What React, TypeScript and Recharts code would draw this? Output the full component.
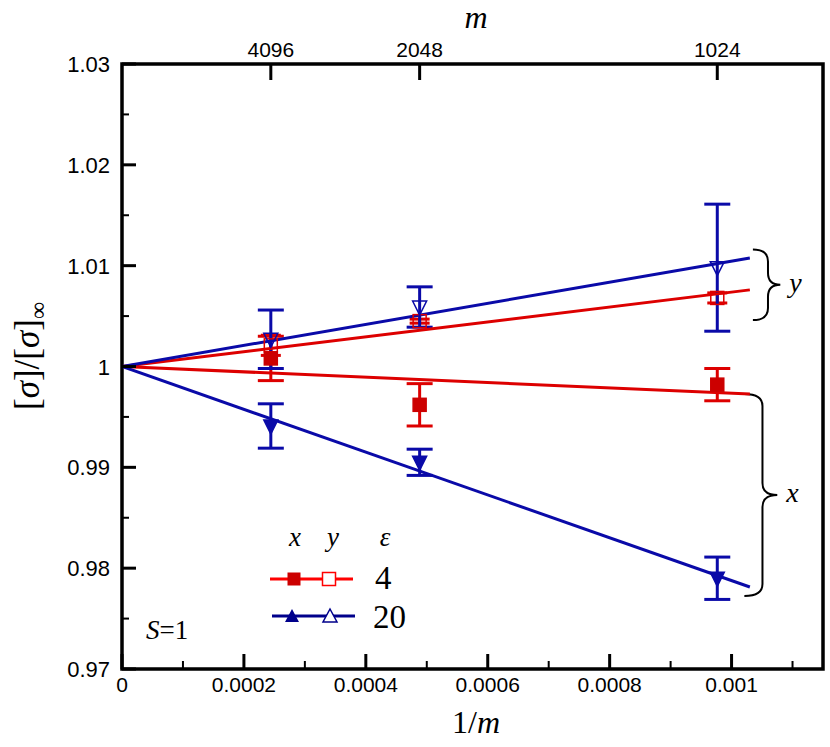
import React from "react";
import {
  ComposedChart,
  Scatter,
  Line,
  XAxis,
  YAxis,
  ErrorBar,
  ReferenceArea,
} from "recharts";

// 1/m for m = 4096, 2048, 1024
const mValues = [4096, 2048, 1024];
const invM = [1 / 4096, 1 / 2048, 1 / 1024];

// [sigma]/[sigma]_inf, with error half-widths
const xEps4 = [1.0008, 0.9962, 0.9982];
const xEps4Err = [0.0022, 0.0021, 0.0016];
const yEps4 = [1.0021, 1.0045, 1.0068];
const yEps4Err = [0.001, 0.0002, 0.0005];
const xEps20 = [0.9941, 0.9905, 0.979];
const xEps20Err = [0.0022, 0.0013, 0.0021];
const yEps20 = [1.0027, 1.0059, 1.0098];
const yEps20Err = [0.0029, 0.002, 0.0063];

// linear fits through 1 at 1/m = 0
const fitX = [0, 0.00103];
const fitRedUp = [1, 1.0076];
const fitRedLow = [1, 0.99727];
const fitBlueUp = [1, 1.01076];
const fitBlueLow = [1, 0.97813];

const bottomTicks = [0, 0.0001, 0.0002, 0.0003, 0.0004, 0.0005, 0.0006, 0.0007, 0.0008, 0.0009, 0.001, 0.0011];
const bottomMajor = [0, 0.0002, 0.0004, 0.0006, 0.0008, 0.001];
const leftTicks = [0.97, 0.975, 0.98, 0.985, 0.99, 0.995, 1, 1.005, 1.01, 1.015, 1.02, 1.025, 1.03];
const leftLabels: Record<string, string> = {
  "0.97": "0.97",
  "0.98": "0.98",
  "0.99": "0.99",
  "1": "1",
  "1.01": "1.01",
  "1.02": "1.02",
  "1.03": "1.03",
};

const RED = "#dd0000";
const RED_DARK = "#cc0000";
const BLUE = "#0a0aa8";
const NAVY = "#00008b";
const SANS = "'Liberation Sans', Arial, sans-serif";
const SERIF = "'Liberation Serif', 'Times New Roman', serif";

const pts = (ys: number[], errs: number[]) =>
  invM.map((x, i) => ({ x, y: ys[i], err: errs[i] }));
const fit = (ys: number[]) => fitX.map((x, i) => ({ x, y: ys[i] }));

const near = (a: number, list: number[]) => list.some((b) => Math.abs(a - b) < 1e-9);

const BottomTick = (props: any) => {
  const { x, y, payload } = props;
  const major = near(payload.value, bottomMajor);
  return (
    <g>
      <line x1={x} x2={x} y1={y} y2={y - (major ? 15 : 8)} stroke="#000" strokeWidth={major ? 3 : 2} />
      {major && (
        <text x={x} y={y + 23} textAnchor="middle" fontFamily={SANS} fontSize={21} fill="#000">
          {payload.value === 0 ? "0" : String(payload.value)}
        </text>
      )}
    </g>
  );
};

const TopTick = (props: any) => {
  const { x, y, index } = props;
  return (
    <g>
      <line x1={x} x2={x} y1={y} y2={y + 16} stroke="#000" strokeWidth={3} />
      <text x={x} y={y - 7} textAnchor="middle" fontFamily={SANS} fontSize={21} fill="#000">
        {mValues[index]}
      </text>
    </g>
  );
};

const LeftTick = (props: any) => {
  const { x, y, payload } = props;
  const key = String(Math.round(payload.value * 1000) / 1000);
  const label = leftLabels[key];
  return (
    <g>
      <line x1={x} x2={x + (label ? 14 : 7)} y1={y} y2={y} stroke="#000" strokeWidth={label ? 3 : 2} />
      {label && (
        <text x={x - 12} y={y + 8} textAnchor="end" fontFamily={SANS} fontSize={22} fill="#000">
          {label}
        </text>
      )}
    </g>
  );
};

const square = (fill: string, stroke: string) => (p: any) => (
  <rect x={p.cx - 6.5} y={p.cy - 6.5} width={13} height={13} fill={fill} stroke={stroke} strokeWidth={1.5} />
);
const downTri = (fill: string, stroke: string) => (p: any) => (
  <path
    d={`M${p.cx - 7},${p.cy - 6} L${p.cx + 7},${p.cy - 6} L${p.cx},${p.cy + 8} Z`}
    fill={fill}
    stroke={stroke}
    strokeWidth={1.5}
  />
);

const brace = (label: string) => (p: any) => {
  const { x, y, width, height } = p;
  const x0 = x;
  const xm = x + width * 0.55;
  const x1 = x + width;
  const ym = y + height / 2;
  const r = 12;
  const d = [
    `M${x0},${y}`,
    `Q${xm},${y} ${xm},${y + r}`,
    `L${xm},${ym - r}`,
    `Q${xm},${ym} ${x1},${ym}`,
    `Q${xm},${ym} ${xm},${ym + r}`,
    `L${xm},${y + height - r}`,
    `Q${xm},${y + height} ${x0},${y + height}`,
  ].join(" ");
  return (
    <g>
      <path d={d} fill="none" stroke="#000" strokeWidth={2} />
      <text x={x1 + 9} y={ym + 7} fontFamily={SERIF} fontStyle="italic" fontSize={28} fill="#000">
        {label}
      </text>
    </g>
  );
};

const Overlay = () => (
  <svg width={830} height={747} style={{ position: "absolute", left: 0, top: 0, pointerEvents: "none" }}>
    <text x={476} y={28} textAnchor="middle" fontFamily={SERIF} fontStyle="italic" fontSize={32}>m</text>
    <text x={476} y={733} textAnchor="middle" fontFamily={SERIF} fontSize={32}>
      1/<tspan fontStyle="italic">m</tspan>
    </text>
    <text x={39} y={356} transform="rotate(-90 39 356)" textAnchor="middle" fontFamily={SERIF} fontSize={35}>
      [<tspan fontStyle="italic">σ</tspan>]/[<tspan fontStyle="italic">σ</tspan>]
      <tspan fontSize={24} dy={7}>∞</tspan>
    </text>
    <text x={295} y={546} textAnchor="middle" fontFamily={SERIF} fontStyle="italic" fontSize={27}>x</text>
    <text x={333} y={546} textAnchor="middle" fontFamily={SERIF} fontStyle="italic" fontSize={27}>y</text>
    <text x={385} y={546} textAnchor="middle" fontFamily={SERIF} fontStyle="italic" fontSize={27}>ε</text>
    <line x1={270} x2={353} y1={579} y2={579} stroke="#ff0000" strokeWidth={3} />
    <rect x={287.5} y={572.5} width={13} height={13} fill={RED_DARK} />
    <rect x={322.5} y={572.5} width={13} height={13} fill="#fff" stroke="#ff0000" strokeWidth={1.5} />
    <text x={375} y={589} fontFamily={SERIF} fontSize={33}>4</text>
    <line x1={272} x2={355} y1={616} y2={616} stroke={NAVY} strokeWidth={3} />
    <path d="M285,622 L299,622 L292,609 Z" fill={NAVY} />
    <path d="M323,622 L337,622 L330,609 Z" fill="#fff" stroke={NAVY} strokeWidth={1.5} />
    <text x={373} y={628} fontFamily={SERIF} fontSize={33}>20</text>
    <text x={146} y={639} fontFamily={SERIF} fontSize={27}>
      <tspan fontStyle="italic">S</tspan>=1
    </text>
  </svg>
);

export default function App() {
  return (
    <div style={{ position: "fixed", left: 0, top: 0, width: 830, height: 747, background: "#fff" }}>
      <ComposedChart
        width={830}
        height={747}
        margin={{ top: 24, right: 7, bottom: 38, left: 62 }}
      >
        <XAxis
          xAxisId="bottom"
          type="number"
          dataKey="x"
          domain={[0, 0.00115]}
          ticks={bottomTicks}
          interval={0}
          allowDataOverflow
          height={40}
          tickSize={0}
          tickMargin={0}
          tickLine={false}
          axisLine={false}
          tick={<BottomTick />}
        />
        <XAxis
          xAxisId="top"
          orientation="top"
          type="number"
          dataKey="x"
          domain={[0, 0.00115]}
          ticks={invM}
          interval={0}
          allowDataOverflow
          height={40}
          tickSize={0}
          tickMargin={0}
          tickLine={false}
          axisLine={false}
          tick={<TopTick />}
        />
        <YAxis
          yAxisId="left"
          type="number"
          domain={[0.97, 1.03]}
          ticks={leftTicks}
          interval={0}
          allowDataOverflow
          width={60}
          tickSize={0}
          tickMargin={0}
          tickLine={false}
          axisLine={false}
          tick={<LeftTick />}
        />

        <Scatter xAxisId="bottom" yAxisId="left" data={pts(yEps4, yEps4Err)} dataKey="y" shape={square("none", RED)} isAnimationActive={false}>
          <ErrorBar dataKey="err" direction="y" width={10} stroke={RED} strokeWidth={3} />
        </Scatter>
        <Scatter xAxisId="bottom" yAxisId="left" data={pts(xEps4, xEps4Err)} dataKey="y" shape={square(RED_DARK, RED_DARK)} isAnimationActive={false}>
          <ErrorBar dataKey="err" direction="y" width={13} stroke={RED} strokeWidth={3} />
        </Scatter>
        <Scatter xAxisId="bottom" yAxisId="left" data={pts(xEps20, xEps20Err)} dataKey="y" shape={downTri(BLUE, BLUE)} isAnimationActive={false}>
          <ErrorBar dataKey="err" direction="y" width={13} stroke={BLUE} strokeWidth={3} />
        </Scatter>
        <Scatter xAxisId="bottom" yAxisId="left" data={pts(yEps20, yEps20Err)} dataKey="y" shape={downTri("none", BLUE)} isAnimationActive={false}>
          <ErrorBar dataKey="err" direction="y" width={13} stroke={BLUE} strokeWidth={3} />
        </Scatter>

        <Line xAxisId="bottom" yAxisId="left" data={fit(fitRedUp)} dataKey="y" stroke={RED} strokeWidth={3} dot={false} isAnimationActive={false} />
        <Line xAxisId="bottom" yAxisId="left" data={fit(fitRedLow)} dataKey="y" stroke={RED} strokeWidth={3} dot={false} isAnimationActive={false} />
        <Line xAxisId="bottom" yAxisId="left" data={fit(fitBlueUp)} dataKey="y" stroke={BLUE} strokeWidth={3} dot={false} isAnimationActive={false} />
        <Line xAxisId="bottom" yAxisId="left" data={fit(fitBlueLow)} dataKey="y" stroke={BLUE} strokeWidth={3} dot={false} isAnimationActive={false} />

        <ReferenceArea xAxisId="bottom" yAxisId="left" x1={0.001035} x2={0.00108} y1={1.0116} y2={1.0046} ifOverflow="visible" shape={brace("y")} />
        <ReferenceArea xAxisId="bottom" yAxisId="left" x1={0.001021} x2={0.001075} y1={0.99727} y2={0.97723} ifOverflow="visible" shape={brace("x")} />
        <ReferenceArea
          xAxisId="bottom"
          yAxisId="left"
          x1={0}
          x2={0.00115}
          y1={0.97}
          y2={1.03}
          ifOverflow="visible"
          fill="none"
          fillOpacity={0}
          stroke="#000"
          strokeWidth={3.5}
          strokeOpacity={1}
        />
      </ComposedChart>
      <Overlay />
    </div>
  );
}
